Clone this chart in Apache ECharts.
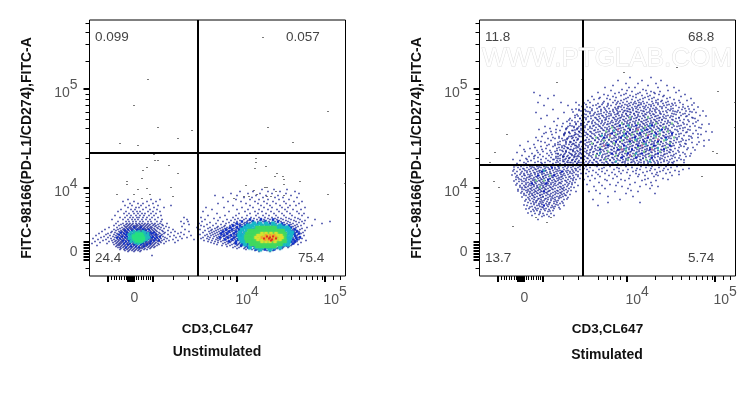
<!DOCTYPE html>
<html>
<head>
<meta charset="utf-8">
<script src="https://cdn.jsdelivr.net/npm/echarts@6/dist/echarts.min.js"></script>
<style>html,body{margin:0;padding:0;background:#fff}#main{width:756px;height:395px}</style>
</head>
<body>
<div id="main"></div>
<script>
// all dot lists are rows: [channelY, channelX, channelX, ...]
var xMajor = [18, 38, 39.5, 41, 42.5, 44, 63.5, 147.5, 235.5];
var xMinor = [22, 24.5, 27, 29.5, 32, 34.5, 36.5, 46.5, 49, 51.5, 54, 56.5, 59, 61, 83.5, 98.5, 118.5, 127.5, 133.5, 140.5, 175.5, 192.5, 201.5, 209.5, 216.5, 222.5, 227.5, 232.5, 243.5, 250.5];
var yMajor = [16, 19, 22, 25, 28, 31, 34, 88, 187.3];
var yMinor = [8, 43, 53, 63, 70, 75, 79, 83, 118, 133, 148, 157, 164, 171, 177, 182, 215, 232, 244, 253];
var xLabelPos = [41, 146, 234];
var yLabelPos = [24, 88, 187.3];
var tickLabels = ['0', '10^4', '10^5'];
var gateL = [108.5, 123];
var gateR = [103.5, 111.3];
var pctL = ['0.099', '0.057', '24.4', '75.4'];
var pctR = ['11.8', '68.8', '13.7', '5.74'];

var leftSparse = [
[238,173],[196,58],[170,44],[164,238],[148,68,178],[145,102],[137,88],[133,203],[132,30],[130,48],
[122,77],[121,64],[117,166],[115,65,68],[113,166],[110,79],[109,176],[108,57],[107,165],[105,53],[102,88,187],
[99,185,193],[97,52],[96,194],[94,37,210],[92,255],[91,37,194],[90,156],[88,81,175,177],[87,57],[86,48],[85,164],
[84,186],[81,27,44,60,167,238],[80,194],[79,83,154,159,177,181],[77,52,144]
];
var blobA = [
[76,38,61,70],[74,33,44,57,66],[72,40,48,53,63],[70,35,42,51,59,68,81],[68,38,46,49,56,64,74],[66,31,41,45,53,60,67],
[64,28,36,43,47,50,58,63,70],[62,34,39,44,48,52,55,61,66],[60,25,37,41,46,50,54,59,64,71],[58,30,35,40,43,47,49,53,57,62,68,94],
[56,22,33,38,42,45,48,52,56,60,65,72,97],[54,28,36,39,43,46,50,53,58,61,67,71,91,98],
[52,26,33,37,40,43,46,49,52,55,58,62,65,70,77,94],[51,31,36,39,42,47,50,54,57,60,64,68,72,99],
[50,24,29,34,38,41,44,46,48,51,53,56,59,63,66,73],[49,35,37,40,43,45,47,50,52,55,58,61,65,69,76,92],
[48,19,27,32,36,39,41,44,46,49,51,54,57,60,62,67,71,79],[47,30,34,37,40,42,45,48,50,53,55,58,61,64,68,74],
[46,15,24,28,33,35,38,41,43,46,48,50,52,55,57,59,62,65,70,83,95],[45,26,31,34,36,39,42,44,47,49,51,54,56,60,63,66,72,78],
[44,12,22,29,32,35,37,40,43,45,47,50,52,53,55,58,61,64,67,73,85,99],[43,21,25,30,33,36,38,41,44,46,49,51,54,56,59,62,65,69,75,81,91],
[42,9,18,27,31,34,37,39,42,45,48,52,55,57,60,63,66,70,74,88],[41,16,24,28,32,35,38,40,43,46,50,53,56,58,61,64,68,72,78,94],
[40,6,20,26,30,33,36,39,41,44,47,51,54,57,59,62,65,67,71,84,101],[39,14,23,28,31,34,37,40,42,45,49,52,55,58,60,63,66,69,73,80,90],
[38,11,18,25,29,32,35,38,41,43,46,50,53,56,59,61,64,67,70,75,86,97],[37,3,21,27,30,33,36,39,42,44,47,51,54,57,60,62,65,68,71,77,92],
[36,8,16,24,28,31,34,37,40,43,46,49,52,55,58,61,63,66,69,74,83,104],[35,13,22,26,29,32,35,38,41,44,48,51,54,57,60,62,65,67,72,79,88],
[34,5,19,25,28,31,33,36,39,42,45,50,53,56,59,61,64,68,70,76],[33,10,23,27,30,32,35,38,41,44,47,50,53,56,58,60,63,66,71,85],
[32,2,17,26,29,31,34,37,40,43,46,49,52,55,57,59,62,65,68,74],[31,24,28,30,33,36,39,42,45,48,51,54,56,58,61,64,69],
[30,7,27,29,32,35,38,41,44,47,50,53,55,57,60,63,67],[29,26,31,34,37,40,43,46,49,52,54,56,59,62,65],
[28,28,30,33,36,39,42,45,48,51,53,58,61,64],[27,31,35,38,41,44,47,50,52,55,60],[26,30,34,37,40,43,46,49,54,57],[25,35,39,42,45,48,51],[24,38,44,50],[20,62]
];
var blobB = [
[86,172,184,197],[84,150,163,178,190,205],[82,141,158,170,182,196,209],[80,125,147,166,176,188,201],[78,133,154,162,173,185,193,207],
[76,146,160,169,178,189,199],[74,138,151,165,174,183,194,204,212],[72,128,156,168,177,186,196,209],[70,143,160,171,180,190,200,206],
[68,116,134,152,163,174,182,192,198,215],[66,122,147,158,169,178,187,195,203,211],[64,113,139,155,165,172,181,189,197,207],
[62,127,149,160,168,176,184,192,200,209,214],[60,118,135,146,157,166,173,179,186,194,202,212],[58,111,130,143,152,161,169,175,182,188,196,205,218],
[57,124,148,156,164,171,178,185,191,199,208],[56,115,137,145,154,160,167,174,180,187,193,201,210,225],[55,128,141,150,158,163,170,176,183,189,196,204,215],
[54,112,133,147,152,157,162,168,173,179,185,191,198,206,212,240],[53,120,139,144,155,160,165,171,177,182,188,194,200,209],
[52,109,126,136,146,150,154,159,164,169,175,180,186,192,197,203,214,232],[51,117,131,142,148,152,157,162,167,172,178,184,190,195,201,207],
[50,111,123,135,140,145,150,155,160,166,171,176,182,188,193,199,205,211,222],[49,114,128,134,143,147,152,158,163,168,174,180,186,191,197,203,208],
[48,107,120,127,132,137,141,146,150,155,161,166,172,178,184,190,196,201,206,217],[47,118,125,130,135,139,144,148,153,158,164,170,176,182,188,194,199,204,212],
[46,110,122,128,133,137,142,146,151,156,161,167,173,179,185,191,197,203,210],[45,115,121,126,131,136,140,144,149,153,159,165,171,177,183,189,195,201,207,215],
[44,108,119,124,129,134,138,142,147,151,156,162,168,174,180,186,192,198,204,209],[43,113,122,127,132,136,140,145,149,154,160,166,172,178,184,190,196,202,206,213],
[42,120,125,130,134,138,143,147,152,158,164,170,176,182,188,194,200,205,211],[41,110,117,123,128,132,137,141,146,150,156,162,168,174,180,186,192,198,204,208],
[40,115,121,126,131,135,139,144,148,153,160,166,172,178,184,190,196,202,207,214],[39,108,118,124,129,133,137,142,146,151,158,164,170,176,182,188,194,200,205,210],
[38,113,120,127,131,136,140,145,149,156,162,168,174,180,186,192,198,203,208],[37,111,117,123,128,134,138,143,147,152,160,166,172,178,184,190,196,201,206,212],
[36,119,126,130,136,141,145,150,155,163,169,175,181,187,193,199,204,209],[35,114,122,128,133,139,143,148,153,159,165,171,177,183,189,195,200,205,216],
[34,118,125,131,137,141,146,151,157,162,168,174,180,186,192,198,203,207],[33,121,128,135,140,145,150,155,160,166,172,178,184,190,196,201,205,211],
[32,124,133,138,144,149,154,159,164,170,176,182,188,194,199,204],[31,127,136,142,148,153,158,163,168,174,180,186,192,197,202,208],
[30,132,140,147,152,157,162,167,173,179,185,191,196,201],[29,137,145,151,156,161,166,171,177,183,189,194,199],
[28,143,149,155,160,165,170,176,182,188,193,198],[27,147,154,159,164,169,175,181,187,192],[26,156,162,168,173,179,185,190],[25,165,171,177,183],[24,169,180]
];
var blueA = [[48,44,51],[46,38,47,53,59],[45,35,42,49,56],[43,31,37,44,52,60,64],[42,34,41,57,62],[41,29,36,39,59,66],[39,32,37,60,63,70],[38,27,35,62,67],[37,30,38,59,65],[35,33,39,57,64,69],[34,36,42,55,61],[32,34,40,47,53,60],[31,38,44,51,57],[29,41,46,54],[28,36,49]];
var cyanA = [[44,44,49,53],[43,41,47,55],[42,46,51,58],[41,39,44,49,54],[40,42,56,58],[39,40,44,53,57],[38,41,55,59],[37,39,43,53,56],[36,42,46,52,57],[35,44,49,54],[34,41,47,52],[33,45,50],[32,48]];
var greenA = [[41,47,51],[39,44,48,52],[37,45,49,53],[35,47,51]];
var blueB = [[56,160,171,183],[54,152,163,175,188],[52,147,157,168,180,192],[50,143,150,155,194,199],[48,140,147,152,198,201],[46,136,142,149,153,200,205],[44,133,139,146,151,203,207],[42,131,137,144,150,204,209],[40,134,141,147,151,205],[38,130,138,144,150,206,210],[36,135,142,148,152,203,207],[34,139,146,151,156,201,205],[32,146,152,158,198,203],[30,151,156,163,169,192,197],[28,158,165,172,178,185,191],[26,166,175,184]];
var cyanB = [[52,164,170,176,183],[50,158,162,167,172,178,185,190],[48,155,160,166,174,181,188,193,197],[46,152,157,162,190,196,199],[43,150,155,194,199,202],[40,149,153,197,201],[37,150,153,197,200],[34,152,155,195,199],[31,155,160,190,194,198],[28,160,166,172,178,184,190],[26,170,180]];
var greenB = [[47,168,172,176,180,184],[44,160,164,168,172,176,180,184,188,192],[41,158,162,166,170,174,178,182,186,190,194],[38,157,161,165,169,173,177,181,185,189,193],[35,158,162,166,170,174,178,182,186,190,194],[32,162,166,170,174,178,182,186,190],[30,168,172,176,180,184]];
var yellowB = [[42,172,176,181,186],[40,168,171,175,178,182,185,188,191],[38,166,170,174,177,181,184,190,192],[36,168,172,176,180,186,190],[34,172,176,180,185]];
var orangeB = [[40,176,180,184],[38,172,176,180,186],[36,175,179,183]];
var redB = [[39,177,183],[38,180],[37,174,179,186],[36,182],[35,181]];

var rightSparse = [
[227,170],[208,197],[203,144],[196,102],[193,77],[184,238],[173,255],[148,255],[141,27],[124,233],[123,15],[122,237],[113,10],[99,222],[94,14],[88,19],[49,33],[53,67],[58,56,71]
];
var mainBlob = [
[186,142,163],[184,152,171,180],[182,135,146,158,167,175],[180,128,141,150,162,170,184],[178,120,136,148,156,165,174,190],
[176,114,130,144,152,160,169,178,194],[174,124,138,147,155,163,172,181,188],[173,110,133,143,151,159,167,176,186,200],
[172,118,128,140,149,156,164,173,183,192],[171,106,122,136,145,153,161,169,178,189,203],[170,113,131,142,150,158,166,174,184,196],
[169,102,120,127,139,148,155,163,171,180,191,208],[168,110,124,135,144,152,160,168,176,186,199],
[167,117,129,138,147,156,164,173,182,193,205],[166,105,121,133,142,150,158,166,175,188,202,214],
[165,99,112,126,137,145,153,161,170,179,190,198],[164,108,118,130,140,148,156,164,172,183,195,210],
[163,103,115,124,134,143,151,159,167,176,187,200,216],[162,110,121,129,138,146,154,162,170,180,192,205],
[161,97,106,117,126,135,142,150,158,166,174,184,196,209],[160,102,113,122,131,139,147,155,163,171,178,188,201,220],
[159,108,119,127,136,144,152,160,168,175,183,193,206],[158,95,104,115,124,133,141,149,157,165,172,180,190,199,212],
[157,100,111,120,129,138,146,154,162,170,177,186,196,215],[156,106,117,126,135,143,151,159,167,174,182,192,204],
[155,92,102,113,122,132,140,148,156,164,171,179,188,200,218],[154,98,109,119,128,136,145,153,161,168,176,185,195,209],
[153,104,115,125,133,142,150,158,166,173,181,190,203],[152,90,101,112,121,130,138,147,155,163,170,178,187,198,213],
[151,96,107,118,127,135,143,152,160,167,175,183,193,207,222],[150,103,114,123,132,140,149,157,165,172,180,189,201],
[149,88,99,110,120,129,137,146,154,162,169,177,186,197,210],[148,94,105,116,125,134,143,151,159,166,174,183,192,205,219],
[147,101,112,122,130,139,148,156,164,171,179,188,200],[146,86,97,108,118,127,136,144,153,161,168,176,185,195,208],
[145,92,104,114,124,133,141,150,158,165,173,181,190,203,216],[144,99,110,120,129,138,147,155,163,170,178,187,198,226],
[143,85,95,106,116,126,135,143,152,160,167,175,184,193,206],[142,90,102,112,122,131,140,149,157,164,172,180,189,201,213],
[141,98,108,119,128,137,146,154,161,169,177,186,196,221],[140,84,94,105,115,125,134,143,151,159,166,174,183,192,204],
[139,89,100,111,121,130,139,148,156,163,171,179,188,199,211],[138,96,107,117,127,136,145,153,161,168,176,185,195,218],
[137,82,92,103,113,123,132,141,150,158,165,173,182,191,202],[136,87,98,109,119,129,138,147,155,163,170,178,187,197,209],
[135,94,105,115,125,134,143,152,160,167,175,184,194,206,224],[134,80,90,101,111,121,131,140,149,157,164,172,181,190,201],
[133,86,96,107,117,127,136,145,154,162,169,177,186,196,212],[132,93,103,113,123,133,142,151,159,166,174,183,193,205],
[131,78,89,99,110,120,129,138,148,156,163,171,180,189,200,217],[130,84,95,106,116,126,135,144,153,161,168,176,185,194],
[129,91,102,112,122,132,141,150,158,165,173,182,191,204],[128,79,87,98,108,118,128,137,147,155,163,170,178,188,199,213],
[127,84,94,105,115,125,134,144,152,160,167,175,184,195],[126,90,101,111,121,131,140,149,157,165,172,181,190,207],
[125,77,86,97,107,118,127,137,146,154,162,169,178,187,198],[124,83,93,104,114,124,134,143,151,159,166,175,184,193],
[123,89,100,110,120,130,140,148,156,164,172,181,190,203],[122,76,85,96,107,117,127,136,145,153,161,169,178,187,196,211],
[121,81,92,102,113,123,133,142,150,158,166,175,184,194],[120,88,98,109,119,129,138,147,155,163,172,181,191,200],
[119,78,84,95,105,116,126,135,144,152,160,169,178,188,206],[118,90,101,112,122,132,141,149,157,166,175,185,195],
[117,80,86,97,108,118,128,137,146,154,163,172,182,192],[116,93,104,114,124,134,143,151,160,170,180,190,201],
[115,77,88,99,110,120,130,140,148,157,167,177,187,197],[114,84,95,106,116,126,136,145,154,164,174,184,194],
[113,90,101,112,122,132,142,151,161,171,181,192,204],[112,80,97,108,118,128,138,148,158,168,178,188],
[109,106,117,130,146,161,172,186,197],[108,110,124,137,152,166,179,191],[106,107,119,134,148,160,175,188,203],[105,113,127,143,156,170,183,195],
[104,109,122,139,153,167,180,199],[103,116,132,147,163,177,190],[102,106,125,141,156,172,186],[100,112,129,150,165,178,192],
[99,108,120,137,158,174],[97,115,133,149,168,183],[95,110,127,145,162,176],[93,119,138,155,171],[91,107,130,150,166],[89,114,142,160,178],
[87,125,148,170],[84,109,135,158],[82,120,146,175],[79,128,153],[76,113,140],[73,128,160],[70,118]
];
var mainExtra = [
[198,150,171],[195,138,162,181],[192,146,158,176],[190,133,168,187],[188,125,149,155,178,194],[185,131,147,166,188,199],[183,118,139,160,174,196],
[181,124,144,156,179,205],[179,112,133,153,168,183,201],[177,119,127,146,163,172,187,211],[175,108,135,141,158,176,182,199,207],
[172.5,104,123,137,154,161,178,195,214],[170.5,99,116,128,147,159,171,187,193,212],[168.5,107,119,138,141,157,165,182,203,218],
[166.5,96,112,125,136,149,153,170,177,191,209],[164.5,101,106,121,133,144,147,163,175,186,193,206,223],[163.5,93,110,127,138,150,157,169,180,197,212],
[161.5,104,114,119,131,137,146,154,165,173,181,194,203],[159.5,98,111,123,129,142,148,158,164,176,186,191,207,226],[157.5,106,116,126,134,140,151,156,168,179,184,199,213],
[155.5,89,103,118,125,137,144,150,159,166,175,182,193,208],[153.5,95,108,112,122,131,139,147,155,162,171,177,188,197,216],[151.5,101,116,124,128,136,144,149,158,164,172,184,191,204,229],
[149.5,92,105,113,119,133,139,146,152,160,168,174,181,194,199,215],[147.5,87,98,110,121,127,135,141,149,157,163,170,178,186,203,221],
[145.5,95,101,115,123,129,137,145,150,156,165,172,180,188,197,210],[143.5,89,104,111,118,127,133,140,148,153,162,169,175,183,191,207,232],
[141.5,84,96,107,114,125,130,138,144,150,158,166,171,179,192,199,218],[139.5,92,99,110,120,127,135,142,147,155,161,168,176,184,190,209],
[137.5,79,88,103,112,118,125,134,139,146,152,160,167,174,181,189,197,212],[135.5,85,97,106,115,122,129,137,144,149,157,163,171,179,186,203,229],
[133.5,91,101,109,118,124,132,140,147,153,159,166,174,181,191,199,219],[131.5,75,86,94,105,113,121,126,135,143,150,157,164,172,178,187,206],
[129.5,82,99,108,115,124,130,139,146,152,160,167,175,183,192,201,224],[127.5,88,96,103,112,120,126,134,141,149,156,162,170,177,186,208],
[125.5,80,93,100,110,116,123,132,139,144,152,159,167,174,182,191,215],[123.5,86,95,106,113,121,128,136,142,150,157,165,171,180,189,199],
[121.5,78,91,99,109,117,125,131,139,147,155,160,168,176,185,205],[119.5,83,94,104,111,122,128,138,143,151,158,165,174,183,193,210],
[117.5,76,89,101,107,116,125,133,141,148,156,163,171,180,199],[115.5,83,92,103,114,121,130,138,146,153,161,173,184,204],
[113.5,78,87,98,109,117,127,135,143,152,159,168,178,189],[112.5,93,104,113,124,133,145,155,164,175,193],
[110,99,115,126,141,152,169,181,201],[107,104,122,139,157,171,184,209],[101,118,135,159,176,199],[96,104,125,141,165,188],[90,122,136,172],[85,116,151]
];
var lowBlob = [
[152,83,96],[150,77,90,101],[147,70,86,97],[145,80,93],[143,66,76,89,100],[141,72,84,95],[139,62,79,91,102],[137,68,75,87,98],
[135,58,71,83,94],[133,65,78,90,100],[131,54,69,80,92],[129,61,73,85,97],[127,50,66,77,88,100],[125,57,70,82,93],[124,45,63,75,86,98],
[122,52,67,78,90,101],[121,60,72,84,95],[120,42,55,69,80,92],[119,49,63,76,87,99],[118,58,71,83,94],[117,46,54,66,78,89,101],[116,61,73,85,96],
[115,40,51,68,80,92],[114,48,58,70,83,95],[113,55,65,76,88,99],[112,37,46,62,73,85,97],
[110,36,44,53,60,67,74,81,89,96],[109,41,50,57,64,71,78,85,93,100],[108,38,47,54,61,68,75,83,91,98],[107,43,51,58,65,72,79,87,95],
[106,34,40,49,56,63,70,77,84,92,100],[105,45,53,60,66,73,80,88,96],[104,37,42,50,57,63,70,76,83,90,98],[103,47,54,60,67,74,81,87,94],
[102,35,44,51,58,64,71,77,84,92,101],[101,40,48,55,62,68,75,81,88,96],[100,37,45,52,59,65,72,78,85,93],[99,42,50,56,63,69,76,82,90,98],
[98,38,47,54,60,66,73,79,86,94],[97,44,51,58,64,70,77,83,91,100],[96,36,41,49,55,62,68,74,81,88,96],[95,46,53,59,65,72,78,85,93],
[94,39,44,51,57,63,69,76,82,90],[93,48,55,61,67,73,80,87,95],[92,37,42,50,56,62,68,75,81,89],[91,46,53,59,65,71,78,85,92],
[90,40,44,51,57,63,69,76,83,98],[89,48,54,60,66,73,80,87],[88,42,46,52,58,64,71,78,84,94],[87,50,56,62,68,75,82,89],
[86,38,44,48,54,60,66,73,80,86],[85,46,52,58,64,70,77,84,91],[84,42,50,56,62,68,75,82,96],[83,47,54,60,66,73,80,87],
[82,44,52,58,64,71,78,84],[81,49,55,62,68,75,82,90],[80,46,53,60,66,73,80,86],[79,50,57,63,70,77,83],[78,48,55,61,68,75,81,88],
[77,52,59,66,73,79],[76,46,54,61,68,75,84],[75,50,57,64,71,78],[74,53,60,67,74,82],[73,48,56,63,70,77],[72,51,59,66,74,80],
[71,54,62,69,76],[70,47,57,64,72,84],[69,52,60,68,75],[68,55,63,71,79],[67,49,58,66,74],[66,53,61,69],[65,57,65,73],[64,51,60,68],[62,55,63,71],[61,59,67],[60,52,64,74]
];
var lowExtra = [
[183,54],[180,60,74],[177,68],[173,58,81,96],[170,64,88],[166,73,92,99],[163,56,84],[160,67,95],[157,61,78,90,100],[154,74,87],[149,65,82,94],[146,59,76],[144,71,99],
[142,64,85],[138,56,73,93],[134,48,61,86],[130,40,67,75,96],[128,55,82],[126,44,62,91],[123,37,58,71],[119,54,83,97],[116,33,47,74],[113,44,61,91],
[110.5,39,48,63,72,85,99],[108.5,34,52,59,66,79,88],[106.5,44,55,69,75,96],[104.5,33,47,59,65,78,86,93],[102.5,41,55,62,70,80,90],[100.5,32,44,50,66,74,83,98],
[98.5,36,49,57,63,72,81,89],[96.5,39,46,53,61,70,79,93],[94.5,34,42,55,60,68,75,86],[92.5,46,52,64,71,79,92],[90.5,36,49,54,61,67,74,88],[88.5,40,45,57,63,70,81,91],
[86.5,42,51,59,65,72,83],[84.5,38,48,55,61,69,78,88],[82.5,41,50,57,67,76,81],[80.5,44,52,60,70,85],[78.5,42,54,63,72,79],[76.5,49,58,65,71,87],[74.5,45,56,62,76],
[72.5,54,61,69,83],[70.5,44,59,67,78],[68.5,50,62,73],[66.5,46,56,64,80],[64.5,54,70],[62.5,48,60],[59,62,69],[56,58]
];
var boldDots = [[150,140,156,172],[146,150,167,182],[142,132,146,160,176,192],[138,124,141,155,168,186],[134,136,150,164,178],[130,128,144,158,174,190],[126,120,138,152,170,184],[122,132,148,162,178],[118,142,156,172],[108,72],[104,62,82],[100,58,74],[96,68],[92,52,66],[84,64],[70,64]];
var greenDots = [[158,150,168],[152,142,158,176,192],[148,132,150,165,184],[144,126,144,157,172,188],[141,136,152,166,180],[138,116,130,147,160,176,194],[135,124,142,155,170,184],[132,112,134,150,163,178,190],[128,120,140,158,172,186],[124,128,146,164,180],[120,116,136,154,170],[116,126,148,166],[110,66,80],[100,70],[95,56,64],[88,60]];
var tealDots = [[150,148,170],[145,134,162,180],[140,122,144,174],[136,156,186],[131,128,166],[127,146,178],[122,120,156],[114,136,170],[105,64]];
var pinkDots = [[146,138,158],[140,130,168],[136,150,178],[130,124,162],[126,142,172],[120,150]];

function toPoints(rows) {
    var pts = [];
    rows.forEach(function (r) {
        for (var i = 1; i < r.length; i++) {
            pts.push([r[i] + 0.5, r[0] + 0.5]);
        }
    });
    return pts;
}

function dots(rows, idx, color, size, blur) {
    return {
        type: 'scatter',
        xAxisIndex: idx,
        yAxisIndex: idx,
        data: toPoints(rows),
        symbol: 'rect',
        symbolSize: size,
        silent: true,
        z: 3,
        itemStyle: { color: color, opacity: 1, shadowBlur: blur || 0, shadowColor: color }
    };
}

function gates(g, idx) {
    return {
        type: 'scatter',
        xAxisIndex: idx,
        yAxisIndex: idx,
        data: [],
        silent: true,
        markLine: {
            silent: true,
            symbol: 'none',
            animation: false,
            label: { show: false },
            lineStyle: { color: '#000', width: 2, type: 'solid' },
            z: 6,
            data: [{ xAxis: g[0] }, { yAxis: g[1] }]
        }
    };
}

function tickText(v, pos, onX) {
    var t = tickLabels[pos.indexOf(v)];
    if (!t) return '';
    if (t.indexOf('^') < 0) return onX ? '{z|' + t + '}' : t;
    var p = t.split('^');
    return '{b|' + p[0] + '}{s|' + p[1] + '}';
}

var labelRich = {
    b: { fontSize: 14, color: '#555', fontFamily: 'Liberation Sans', padding: [8, 0, 0, 0] },
    s: { fontSize: 14, color: '#555', fontFamily: 'Liberation Sans', padding: [0, 0, 8, 0] },
    z: { fontSize: 14, color: '#555', fontFamily: 'Liberation Sans', padding: [6, 0, 0, 0] }
};

function xAxes(gridIndex, name) {
    return [{
        type: 'value', gridIndex: gridIndex, min: 0, max: 256,
        position: 'bottom', splitLine: { show: false }, axisLine: { show: false },
        name: name, nameLocation: 'middle', nameGap: 46,
        nameTextStyle: { fontFamily: 'Liberation Sans', fontWeight: 'bold', fontSize: 13.5, color: '#111' },
        axisTick: { show: true, length: 6, customValues: xMajor, lineStyle: { color: '#000', width: 2 } },
        axisLabel: {
            show: true, margin: 9, align: 'left', customValues: xLabelPos, color: '#555', fontSize: 14,
            fontFamily: 'Liberation Sans', rich: labelRich, hideOverlap: false,
            formatter: function (v) { return tickText(v, xLabelPos, true); }
        }
    }, {
        type: 'value', gridIndex: gridIndex, min: 0, max: 256,
        position: 'bottom', splitLine: { show: false }, axisLine: { show: false },
        axisTick: { show: true, length: 4, customValues: xMinor, lineStyle: { color: '#000', width: 1 } },
        axisLabel: { show: false }
    }];
}

function yAxes(gridIndex) {
    return [{
        type: 'value', gridIndex: gridIndex, min: 0, max: 256,
        position: 'left', splitLine: { show: false }, axisLine: { show: false },
        name: 'FITC-98166(PD-L1/CD274),FITC-A', nameLocation: 'middle', nameGap: 55,
        nameTextStyle: { fontFamily: 'Liberation Sans', fontWeight: 'bold', fontSize: 14, color: '#111' },
        axisTick: { show: true, length: 6, customValues: yMajor, lineStyle: { color: '#000', width: 2 } },
        axisLabel: {
            show: true, margin: 12, align: 'right', customValues: yLabelPos, color: '#555', fontSize: 14,
            fontFamily: 'Liberation Sans', rich: labelRich, hideOverlap: false,
            formatter: function (v) { return tickText(v, yLabelPos, false); }
        }
    }, {
        type: 'value', gridIndex: gridIndex, min: 0, max: 256,
        position: 'left', splitLine: { show: false }, axisLine: { show: false },
        axisTick: { show: true, length: 4, customValues: yMinor, lineStyle: { color: '#000', width: 1 } },
        axisLabel: { show: false }
    }];
}

function pctText(str, x, y) {
    return { type: 'text', x: x, y: y, z: 20, style: { text: str, fill: '#444', font: '13.5px "Liberation Sans"', textVerticalAlign: 'middle' } };
}

function caption(str, cx, y) {
    return { type: 'text', x: cx, y: y, z: 20, style: { text: str, fill: '#111', font: 'bold 14px "Liberation Sans"', textAlign: 'center', textVerticalAlign: 'middle' } };
}

var myChart = echarts.init(document.getElementById('main'), null, { renderer: 'canvas' });

var option = {
    animation: false,
    backgroundColor: '#fff',
    grid: [
        { left: 89.5, top: 20, width: 256, height: 256, show: true, borderColor: '#000', borderWidth: 1, backgroundColor: 'transparent' },
        { left: 479.5, top: 20, width: 256, height: 256, show: true, borderColor: '#000', borderWidth: 1, backgroundColor: 'transparent' },
        { left: 89.5, top: 20, width: 256, height: 256 },
        { left: 479.5, top: 20, width: 256, height: 256 }
    ],
    xAxis: [xAxes(0, 'CD3,CL647')[0], xAxes(1, 'CD3,CL647')[0], xAxes(2, '')[1], xAxes(3, '')[1]],
    yAxis: [yAxes(0)[0], yAxes(1)[0], yAxes(2)[1], yAxes(3)[1]],
    series: [
        dots(leftSparse, 0, '#222', 1.2),
        dots(blobA, 0, '#101a90', 1.3),
        dots(blobB, 0, '#101a90', 1.3),
        dots(blueA, 0, '#1030c8', 2),
        dots(blueB, 0, '#1030c8', 2.5),
        dots(cyanA, 0, '#20b8c0', 2.5, 1),
        dots(greenA, 0, '#28e080', 4, 3),
        dots(cyanB, 0, '#18b8c8', 3.5, 2),
        dots(greenB, 0, '#40d860', 5, 2),
        dots(yellowB, 0, '#d8e030', 3, 2),
        dots(orangeB, 0, '#f0a030', 2.5, 1),
        dots(redB, 0, '#e03020', 2),
        gates(gateL, 0),
        dots(rightSparse, 1, '#222', 1.2),
        dots(mainBlob, 1, '#101a90', 1.3),
        dots(mainExtra, 1, '#101a90', 1.3),
        dots(lowBlob, 1, '#101a90', 1.3),
        dots(lowExtra, 1, '#101a90', 1.3),
        dots(greenDots, 1, '#80d090', 2),
        dots(tealDots, 1, '#30b0b8', 2),
        dots(pinkDots, 1, '#c070a0', 2),
        dots(boldDots, 1, '#1020c0', 2),
        gates(gateR, 1)
    ],
    graphic: [
        pctText(pctL[0], 95, 37), pctText(pctL[1], 286, 37), pctText(pctL[2], 95, 258), pctText(pctL[3], 298, 258),
        pctText(pctR[0], 485, 37), pctText(pctR[1], 688, 37), pctText(pctR[2], 485, 258), pctText(pctR[3], 688, 258),
        caption('Unstimulated', 217, 352), caption('Stimulated', 607, 355),
        { type: 'text', x: 482, y: 59, z: 15, style: { text: 'WWW.PTGLAB.COM', fill: '#fff', stroke: '#e0e0e0', lineWidth: 1, font: '26px "Liberation Sans"', textVerticalAlign: 'middle' } }
    ]
};

myChart.setOption(option);
</script>
</body>
</html>
